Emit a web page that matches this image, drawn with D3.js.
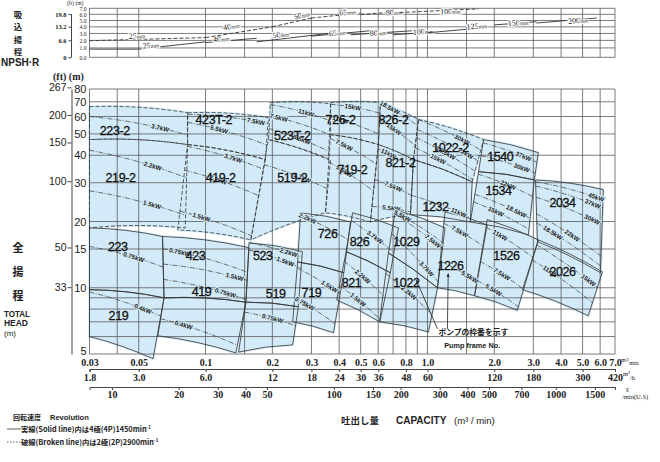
<!DOCTYPE html>
<html>
<head>
<meta charset="utf-8">
<script src="https://cdn.jsdelivr.net/npm/d3@7"></script>
<style>
body { margin: 0; background: #fff; }
svg { display: block; }
</style>
</head>
<body>
<div id="chart"></div>
<script>
// grid + tick values
var qGrid = [0.03,0.04,0.05,0.1,0.15,0.2,0.3,0.4,0.5,0.6,0.7,0.8,0.9,1,1.5,2,3,4,5,6,7];
var hGrid = [5,6,7,8,9,10,15,20,30,40,50,60,70,80];
var hTicks = [5,10,15,20,30,40,50,60,70,80];
var ftTicks = [33,50,100,150,200,267];
var qTicks = ["0.03","0.05","0.1","0.2","0.3","0.4","0.5","0.6","0.8","1.0","2.0","3.0","4.0","5.0","6.0","7.0"];
var m3hTicks = ["1.8","3.0","6.0","12","18","24","30","36","48","60","120","180","300","420"];
var gpmTicks = [10,20,30,40,50,100,150,200,300,400,500,700,1000,1500];
var npshGrid = [1,2,3,4,5,6,7];
var npshTicks = [0,1,2,3,4,5,6,7];
var npshFt = ["0","6.6","13.2","19.8"];

// pump tiles: corners [q m3/min, H m] = top-left, top-right, bottom-right, bottom-left
var tiles4P = [
  ["219",  [[0.030,9.8],[0.065,9.0],[0.058,4.76],[0.030,6.0]]],
  ["223",  [[0.030,18.7],[0.064,17.1],[0.065,9.0],[0.030,9.8]]],
  ["423",  [[0.064,17.1],[0.157,15.2],[0.152,8.6],[0.065,9.0]]],
  ["419",  [[0.065,9.0],[0.152,8.6],[0.137,5.06],[0.061,6.05]]],
  ["523",  [[0.157,16.0],[0.273,14.6],[0.262,8.2],[0.152,8.6]]],
  ["519",  [[0.152,8.6],[0.262,8.2],[0.247,5.5],[0.141,5.1]]],
  ["726",  [[0.268,21.9],[0.45,19.9],[0.42,11.7],[0.26,13.1]]],
  ["719",  [[0.26,13.1],[0.42,11.7],[0.377,6.25],[0.247,7.0]]],
  ["826",  [[0.46,21.9],[0.74,18.7],[0.68,11.7],[0.43,14.6]]],
  ["821",  [[0.43,14.6],[0.68,11.7],[0.61,7.0],[0.39,8.8]]],
  ["1029", [[0.718,22.6],[1.2,18.7],[1.11,10.0],[0.667,14.4]]],
  ["1022", [[0.667,14.4],[1.11,10.0],[1.01,6.3],[0.608,7.0]]],
  ["1226", [[1.2,22.1],[1.86,19.3],[1.63,9.2],[1.11,10.0]]],
  ["1526", [[1.86,20.4],[3.16,16.5],[2.54,7.9],[1.63,9.2]]],
  ["2026", [[3.16,16.5],[6.14,11.8],[5.3,7.46],[2.68,9.8]]]
];
var tiles2P = [
  ["223-2",  [[0.030,66.5],[0.083,62.4],[0.083,44.7],[0.030,47.1]]],
  ["219-2",  [[0.030,47.1],[0.083,44.7],[0.081,18.7],[0.030,18.7]]],
  ["423T-2", [[0.083,62.4],[0.192,59.3],[0.186,38.2],[0.083,44.7]]],
  ["419-2",  [[0.083,44.7],[0.186,38.2],[0.16,16.5],[0.075,18.3]]],
  ["523T-2", [[0.196,69.3],[0.366,68.5],[0.358,38.2],[0.192,47.1]]],
  ["519-2",  [[0.192,47.1],[0.366,38.2],[0.347,21.9],[0.16,16.5]]],
  ["726-2",  [[0.366,69.3],[0.614,69.3],[0.601,44.7],[0.366,49.6]]],
  ["719-2",  [[0.366,49.6],[0.601,44.7],[0.553,19.9],[0.347,21.9]]],
  ["826-2",  [[0.614,69.3],[0.911,58.1],[0.865,38.2],[0.601,44.7]]],
  ["821-2",  [[0.601,44.7],[0.865,38.2],[0.838,21.5],[0.553,19.9]]],
  ["1022-2", [[0.911,58.1],[1.79,47.1],[1.59,30.3],[0.865,38.2]]],
  ["1232",   [[0.865,38.2],[1.59,30.3],[1.56,19.9],[0.838,21.5]]],
  ["1540",   [[1.79,47.1],[3.16,41.1],[3.03,30.9],[1.70,33.7]]],
  ["1534",   [[1.70,33.7],[3.03,30.9],[2.85,17.4],[1.56,19.9]]],
  ["2034",   [[3.07,30.9],[6.2,27.9],[6.02,11.7],[3.13,16.2]]]
];
var dashedTiles = ["223-2","219-2","423T-2","419-2","523T-2","519-2","726-2","719-2","826-2","821-2","1022-2"];

// frame number labels [name, q, H]
var tileLabels = [
  ["223-2",0.039,52],["423T-2",0.109,58],["523T-2",0.246,49],["726-2",0.406,58],["826-2",0.703,58],
  ["1022-2",1.27,43.3],["1540",2.13,39.4],["2034",4.06,24.3],["219-2",0.0414,31.6],["419-2",0.117,31.6],
  ["519-2",0.246,31.6],["719-2",0.459,34.4],["821-2",0.756,37],["1232",1.087,23.3],["1534",2.09,27.6],
  ["223",0.0402,15.4],["423",0.0902,14],["523",0.181,14],["726",0.355,17.6],["826",0.494,16.2],
  ["1029",0.804,16.2],["1226",1.27,12.6],["1526",2.27,14],["2026",4.06,11.8],["219",0.0405,7.46],
  ["419",0.096,9.6],["519",0.207,9.39],["719",0.30,9.5],["821",0.455,10.5],["1022",0.804,10.5]
];

// motor curves inside tiles [tile, start depth, end depth, label, label pos]
var kwLines = [
  ["223-2",0.30,0.70,"3.7kW",0.72],["219-2",0.12,0.40,"2.2kW",0.65],["219-2",0.58,0.85,"1.5kW",0.65],
  ["423T-2",0.05,0.15,"7.5kW",0.85],["423T-2",0.30,0.65,"5.5kW",0.4],["419-2",0.02,0.12,"3.7kW",0.6],
  ["419-2",0.30,0.45,"2.2kW",0.45],["419-2",0.78,0.95,"1.5kW",0.3],["523T-2",0.05,0.30,"11kW",0.6],
  ["523T-2",0.35,0.55,"7.5kW",0.15],["523T-2",0.70,0.85,"5.5kW",0.55],["519-2",0.25,0.55,"3.7kW",0.6],
  ["726-2",0.05,0.25,"15kW",0.45],["726-2",0.45,0.75,"11kW",0.2],["719-2",0.05,0.25,"7.5kW",0.3],
  ["719-2",0.35,0.60,"5.5kW",0.35],["826-2",0.00,0.15,"18.5kW",0.25],["826-2",0.40,0.65,"15kW",0.4],
  ["821-2",0.05,0.15,"11kW",0.3],["821-2",0.45,0.65,"7.5kW",0.5],["821-2",0.80,0.95,"5.5kW",0.5],
  ["1022-2",0.00,0.25,"30kW",0.7],["1022-2",0.25,0.50,"22kW",0.8],["1022-2",0.45,0.75,"18.5kW",0.5],
  ["1022-2",0.70,0.95,"15kW",0.4],["1232",0.65,0.90,"11kW",0.8],["1540",0.10,0.35,"37kW",0.75],
  ["1540",0.50,0.75,"30kW",0.75],["1534",0.05,0.30,"22kW",0.55],["1534",0.45,0.70,"18.5kW",0.75],
  ["1534",0.60,0.90,"15kW",0.4],["2034",0.03,0.12,"45kW",0.9],["2034",0.10,0.22,"37kW",0.85],
  ["2034",0.28,0.42,"30kW",0.85],["2034",0.55,0.80,"22kW",0.55],["2034",0.70,0.92,"18.5kW",0.25],
  ["223",0.30,0.50,"0.75kW",0.6],["219",0.05,0.30,"0.4kW",0.75],["423",0.20,0.45,"0.75kW",0.2],
  ["423",0.45,0.60,"1.5kW",0.85],["423",0.70,0.95,"0.75kW",0.75],["419",0.55,0.85,"0.4kW",0.3],
  ["523",0.00,0.10,"2.2kW",0.75],["523",0.12,0.30,"1.5kW",0.7],["519",0.20,0.50,"0.75kW",0.55],
  ["726",0.05,0.35,"2.2kW",0.15],["719",0.10,0.35,"1.5kW",0.75],["719",0.60,0.85,"0.75kW",0.25],
  ["826",0.20,0.55,"3.7kW",0.55],["821",0.20,0.50,"2.2kW",0.45],["821",0.70,0.95,"1.5kW",0.45],
  ["1029",0.05,0.25,"5.5kW",0.15],["1029",0.10,0.35,"7.5kW",0.8],["1029",0.55,0.90,"3.7kW",0.75],
  ["1022",0.30,0.60,"2.2kW",0.5],["1226",0.15,0.30,"7.5kW",0.4],["1226",0.65,0.80,"5.5kW",0.8],
  ["1526",0.10,0.25,"11kW",0.3],["1526",0.55,0.70,"7.5kW",0.5],["1526",0.80,0.95,"5.5kW",0.4],
  ["2026",0.10,0.35,"15kW",0.85],["2026",0.40,0.70,"11kW",0.3]
];

// NPSH-R by suction bore [size, points [q, m], label at]
var npshSolid = [
  ["25",[[0.03,0.85],[0.05,0.85],[0.1,1.8]],[0.052,1.3]],
  ["40",[[0.1,1.7],[0.17,2.3]],[0.108,2.15]],
  ["50",[[0.17,1.8],[0.4,3.2]],[0.2,2.7]],
  ["65",[[0.3,2.6],[0.55,3.4]],[0.36,3.0]],
  ["80",[[0.45,2.8],[0.85,3.4]],[0.55,3.05]],
  ["100",[[0.7,2.8],[1.05,3.2]],[0.86,3.2]],
  ["125",[[1.0,3.1],[1.86,3.9]],[1.5,4.0]],
  ["150",[[2.0,4.3],[3.1,4.8]],[2.3,4.55]],
  ["200",[[3.1,4.6],[5.8,5.4]],[4.3,4.9]]
];
var npshDashed = [
  ["25",[[0.03,1.96],[0.1,2.4]],[0.045,2.65]],
  ["40",[[0.1,2.4],[0.2,4.0]],[0.12,3.9]],
  ["50",[[0.2,4.0],[0.3,5.4]],[0.25,5.6]],
  ["65",[[0.3,5.4],[0.5,6.2]],[0.4,6.25]],
  ["80",[[0.5,6.0],[0.75,6.4]],[0.65,6.25]],
  ["100",[[0.75,6.3],[1.7,6.9]],[1.14,6.45]]
];

// pointer lines to "1022" and "1226"
var leaders = [[[1.11,6.5],[0.892,10.8]], [[1.23,6.5],[1.24,11.6]]];

function init() {
  var w = 660, h = 462;
  var fillBlue = "#d3ebf8", gridCol = "#5a5a5a", ink = "#222";
  var serif = "'Liberation Serif', 'Times New Roman', serif";
  var sans = "'Liberation Sans', Arial, sans-serif";
  var cjk = "'Noto Sans CJK JP', sans-serif";

  var svg = d3.select("#chart").append("svg")
              .attr("width", w).attr("height", h)
              .style("font-family", sans);

  var x = d3.scaleLog().domain([0.03, 7]).range([89.5, 615]);
  var y = d3.scaleLog().domain([5, 80]).range([354, 89]);
  var yFt = d3.scaleLog().domain([5/0.3048, 80/0.3048]).range([354, 89]);
  var yN = d3.scalePow().exponent(0.85).domain([0, 7]).range([57.3, 8.3]);
  var yNft = d3.scalePow().exponent(0.85).domain([0, 7/0.3048]).range([57.3, 8.3]);
  var xh = d3.scaleLog().domain([0.03*60, 7*60]).range(x.range());
  var xg = d3.scaleLog().domain([0.03*264.17, 7*264.17]).range(x.range());

  var allTiles = tiles2P.concat(tiles4P);
  var tileByName = {};
  allTiles.forEach(function(t){ tileByName[t[0]] = t[1]; });

  function px(c){ return c.map(function(d){ return [x(d[0]), y(d[1])]; }); }
  function bulge(a, b){ return [(a[0]+b[0])/2, (a[1]+b[1])/2 - Math.abs(b[0]-a[0])*0.05]; }
  function lerp(a, b, t){ return [a[0]+(b[0]-a[0])*t, a[1]+(b[1]-a[1])*t]; }
  function tilePath(c){
    var p = px(c);
    return "M" + p[0] + "Q" + bulge(p[0], p[1]) + " " + p[1] + "L" + p[2] +
           "Q" + bulge(p[3], p[2]) + " " + p[3] + "Z";
  }

  // ---- NPSH panel ----
  var ng = svg.append("g").attr("stroke", gridCol).attr("stroke-width", 0.8);
  ng.selectAll("line.v").data(qGrid).enter().append("line").attr("class", "v")
    .attr("x1", function(d){ return x(d); }).attr("x2", function(d){ return x(d); })
    .attr("y1", yN(7)).attr("y2", yN(0));
  ng.selectAll("line.h").data([0].concat(npshGrid)).enter().append("line").attr("class", "h")
    .attr("x1", x(0.03)).attr("x2", x(7))
    .attr("y1", function(d){ return yN(d); }).attr("y2", function(d){ return yN(d); });

  var nline = d3.line().x(function(d){ return x(d[0]); }).y(function(d){ return yN(d[1]); });
  function npshDraw(list, dash){
    list.forEach(function(s){
      svg.append("path").attr("d", nline(s[1])).attr("fill", "none")
         .attr("stroke", "#333").attr("stroke-width", 0.9)
         .attr("stroke-dasharray", dash);
      var a = s[1][0], b = s[1][s[1].length-1];
      var ang = Math.atan2(yN(b[1]) - yN(a[1]), x(b[0]) - x(a[0])) * 180 / Math.PI;
      var t = svg.append("text")
         .attr("transform", "translate(" + x(s[2][0]) + "," + yN(s[2][1]) + ") rotate(" + ang + ")")
         .attr("dy", "0.35em")
         .style("font-family", serif).style("font-size", "8px").attr("fill", ink)
         .attr("stroke", "#fff").attr("stroke-width", 2).style("paint-order", "stroke");
      t.append("tspan").text(s[0]);
      t.append("tspan").style("font-size", "5.5px").text("mm");
    });
  }
  npshDraw(npshSolid, null);
  npshDraw(npshDashed, "4,2");

  var an = svg.append("g").attr("transform", "translate(89.5,0)")
    .call(d3.axisLeft(yN).tickValues(npshTicks).tickSize(0).tickPadding(3));
  an.select(".domain").remove();
  an.selectAll("text").style("font-family", serif).style("font-size", "5.6px").attr("fill", ink);

  var anf = svg.append("g").attr("transform", "translate(71.5,0)")
    .call(d3.axisLeft(yNft).tickValues(npshFt.map(Number)).tickFormat(function(d, i){ return npshFt[i]; })
      .tickSize(3).tickPadding(2));
  anf.select(".domain").remove();
  anf.selectAll("text").style("font-family", serif).style("font-size", "6.5px").style("font-weight", "bold").attr("fill", ink);
  anf.selectAll("line").attr("stroke", "#444");
  svg.append("line").attr("x1", 71.5).attr("x2", 71.5)
     .attr("y1", yNft(19.8)).attr("y2", yNft(0)).attr("stroke", "#444");

  svg.append("text").attr("x", 67).attr("y", 4.5).text("(ft) (m)")
     .style("font-family", serif).style("font-size", "5.5px").attr("fill", ink);

  ["吸","込","揚","程"].forEach(function(c, i){
    svg.append("text").attr("x", 18).attr("y", 18 + i*12.4).attr("text-anchor", "middle")
       .style("font-family", cjk).style("font-weight", "bold").style("font-size", "8.4px")
       .attr("fill", ink).text(c);
  });
  svg.append("text").attr("x", 1).attr("y", 66).text("NPSH·R")
     .style("font-weight", "bold").style("font-size", "10px").attr("fill", ink);

  // ---- main panel ----
  svg.append("g").selectAll("path").data(allTiles).enter().append("path")
     .attr("d", function(d){ return tilePath(d[1]); })
     .attr("fill", fillBlue).attr("stroke", fillBlue).attr("stroke-width", 2.5);

  var grid = svg.append("g").attr("stroke", gridCol).attr("stroke-width", 0.8);
  grid.selectAll("line.v").data(qGrid).enter().append("line").attr("class", "v")
      .attr("x1", function(d){ return x(d); }).attr("x2", function(d){ return x(d); })
      .attr("y1", y(80)).attr("y2", y(5));
  grid.selectAll("line.h").data(hGrid).enter().append("line").attr("class", "h")
      .attr("x1", x(0.03)).attr("x2", x(7))
      .attr("y1", function(d){ return y(d); }).attr("y2", function(d){ return y(d); });

  svg.append("g").selectAll("path").data(allTiles).enter().append("path")
     .attr("d", function(d){ return tilePath(d[1]); })
     .attr("fill", "none").attr("stroke", "#333").attr("stroke-width", 0.8)
     .attr("stroke-dasharray", function(d){ return dashedTiles.indexOf(d[0]) >= 0 ? "4,2" : null; });

  // motor curves
  kwLines.forEach(function(k){
    var p = px(tileByName[k[0]]);
    var L = lerp(p[0], p[3], k[1]), R = lerp(p[1], p[2], k[2]);
    var C = bulge(L, R);
    svg.append("path").attr("d", "M" + L + "Q" + C + " " + R)
       .attr("fill", "none").attr("stroke", "#333").attr("stroke-width", 0.7)
       .attr("stroke-dasharray", "5,1.5,1,1.5");
    var s = k[4], u = 1 - s;
    var P = [u*u*L[0] + 2*u*s*C[0] + s*s*R[0], u*u*L[1] + 2*u*s*C[1] + s*s*R[1]];
    var T = [2*u*(C[0]-L[0]) + 2*s*(R[0]-C[0]), 2*u*(C[1]-L[1]) + 2*s*(R[1]-C[1])];
    var ang = Math.atan2(T[1], T[0]) * 180 / Math.PI;
    svg.append("text")
       .attr("transform", "translate(" + P[0] + "," + P[1] + ") rotate(" + ang + ")")
       .attr("dy", "0.35em").attr("text-anchor", "middle")
       .style("font-size", "6.3px").style("font-weight", "bold").attr("fill", ink)
       .attr("stroke", fillBlue).attr("stroke-width", 2).style("paint-order", "stroke")
       .text(k[3]);
  });

  // frame numbers
  svg.append("g").selectAll("text").data(tileLabels).enter().append("text")
     .attr("x", function(d){ return x(d[1]); }).attr("y", function(d){ return y(d[2]); })
     .attr("dy", "0.35em").attr("text-anchor", "middle")
     .style("font-size", "12.5px").attr("fill", "#111")
     .attr("stroke", "#111").attr("stroke-width", 0.3)
     .style("letter-spacing", "-0.4px")
     .text(function(d){ return d[0]; });

  // pointers
  svg.append("defs").append("marker").attr("id", "arr")
     .attr("viewBox", "0 0 10 10").attr("refX", 9).attr("refY", 5)
     .attr("markerWidth", 5).attr("markerHeight", 6).attr("orient", "auto")
     .append("path").attr("d", "M0,1L10,5L0,9Z").attr("fill", "#222");
  svg.append("g").selectAll("line").data(leaders).enter().append("line")
     .attr("x1", function(d){ return x(d[0][0]); }).attr("y1", function(d){ return y(d[0][1]); })
     .attr("x2", function(d){ return x(d[1][0]); }).attr("y2", function(d){ return y(d[1][1]); })
     .attr("stroke", "#222").attr("stroke-width", 0.8).attr("marker-end", "url(#arr)");
  svg.append("text").attr("x", x(1.12)).attr("y", y(6.1)).text("ポンプの枠番を示す")
     .style("font-family", cjk).style("font-weight", "bold").style("font-size", "7.8px").attr("fill", ink);
  svg.append("text").attr("x", x(1.19)).attr("y", y(5.35)).text("Pump frame No.")
     .style("font-weight", "bold").style("font-size", "7.3px").attr("fill", ink);

  // left axes
  var am = svg.append("g").attr("transform", "translate(89.5,0)")
    .call(d3.axisLeft(y).tickValues(hTicks).tickFormat(d3.format("d")).tickSize(0).tickPadding(3));
  am.select(".domain").remove();
  am.selectAll("text").style("font-size", "11px").attr("fill", ink)
    .attr("dy", function(d){ return d === 5 ? "0.05em" : "0.32em"; });

  var aft = svg.append("g").attr("transform", "translate(71.5,0)")
    .call(d3.axisLeft(yFt).tickValues(ftTicks).tickSize(4).tickSizeOuter(0).tickPadding(1));
  aft.selectAll("text").style("font-size", "10.5px").attr("fill", ink);
  aft.selectAll("line, path").attr("stroke", "#444");

  svg.append("text").attr("x", 53).attr("y", 80).text("(ft) (m)")
     .style("font-family", serif).style("font-size", "10px").style("font-weight", "bold").attr("fill", ink);

  [["全",252],["揚",276],["程",300]].forEach(function(c){
    svg.append("text").attr("x", 18).attr("y", c[1]).attr("text-anchor", "middle")
       .style("font-family", cjk).style("font-weight", "bold").style("font-size", "11px")
       .attr("fill", ink).text(c[0]);
  });
  svg.append("text").attr("x", 4).attr("y", 317).attr("textLength", 26).attr("lengthAdjust", "spacingAndGlyphs")
     .style("font-weight", "bold").style("font-size", "9px").attr("fill", ink).text("TOTAL");
  svg.append("text").attr("x", 4).attr("y", 326).attr("textLength", 24).attr("lengthAdjust", "spacingAndGlyphs")
     .style("font-weight", "bold").style("font-size", "9px").attr("fill", ink).text("HEAD");
  svg.append("text").attr("x", 4).attr("y", 336).style("font-size", "8px").attr("fill", ink).text("(m)");

  // bottom axes
  var b1 = svg.append("g").attr("transform", "translate(0,355)")
    .call(d3.axisBottom(x).tickValues(qTicks.map(Number)).tickFormat(function(d, i){ return qTicks[i]; })
      .tickSize(0).tickPadding(4));
  b1.select(".domain").remove();

  var b2 = svg.append("g").attr("transform", "translate(0,369)")
    .call(d3.axisBottom(xh).tickValues(m3hTicks.map(Number)).tickFormat(function(d, i){ return m3hTicks[i]; })
      .tickSizeInner(3).tickSizeOuter(3).tickPadding(2));

  var b3 = svg.append("g").attr("transform", "translate(0,387)")
    .call(d3.axisBottom(xg).tickValues(gpmTicks).tickFormat(d3.format("d"))
      .tickSizeInner(3).tickSizeOuter(3).tickPadding(1));

  [b1, b2, b3].forEach(function(b){
    b.selectAll("text").style("font-family", serif).style("font-size", "10px")
     .style("font-weight", "bold").attr("fill", ink);
    b.selectAll("line, path").attr("stroke", "#444");
  });

  // unit labels
  var u1 = svg.append("text").attr("x", 621).attr("y", 362).style("font-family", serif)
              .style("font-size", "6px").attr("fill", ink);
  u1.append("tspan").text("m³/");
  u1.append("tspan").attr("dy", 3).text("min");
  var u2 = svg.append("text").attr("x", 623).attr("y", 376).style("font-family", serif)
              .style("font-size", "6.5px").attr("fill", ink);
  u2.append("tspan").text("m³");
  u2.append("tspan").attr("dy", 4).text("/h");
  svg.append("text").attr("x", 626).attr("y", 391).style("font-family", serif)
     .style("font-size", "5.5px").attr("fill", ink).text("g");
  svg.append("text").attr("x", 622).attr("y", 399).style("font-family", serif)
     .style("font-size", "6.5px").attr("fill", ink).text("/min(U.S)");

  // axis title
  svg.append("text").attr("x", 341).attr("y", 424).text("吐出し量")
     .style("font-family", cjk).style("font-weight", "bold").style("font-size", "9.5px").attr("fill", ink);
  svg.append("text").attr("x", 396).attr("y", 424).text("CAPACITY")
     .style("font-weight", "bold").style("font-size", "10px").attr("fill", ink);
  svg.append("text").attr("x", 454).attr("y", 424).text("(m³ / min)")
     .style("font-size", "9.5px").attr("fill", ink);

  // legend
  svg.append("text").attr("x", 13).attr("y", 420).text("回転速度")
     .style("font-family", cjk).style("font-weight", "bold").style("font-size", "7px").attr("fill", ink);
  svg.append("text").attr("x", 50).attr("y", 420).text("Revolution")
     .style("font-weight", "bold").style("font-size", "7.5px").attr("fill", ink);
  svg.append("line").attr("x1", 7).attr("x2", 21).attr("y1", 429).attr("y2", 429)
     .attr("stroke", "#333").attr("stroke-width", 0.8);
  svg.append("line").attr("x1", 7).attr("x2", 21).attr("y1", 442).attr("y2", 442)
     .attr("stroke", "#333").attr("stroke-width", 0.8).attr("stroke-dasharray", "1.5,1.5");
  var l1 = svg.append("text").attr("x", 21).attr("y", 432)
              .style("font-family", cjk).style("font-weight", "bold").style("font-size", "7.3px").attr("fill", ink);
  l1.append("tspan").text("実線(Solid line)内は4極(4P)1450min");
  l1.append("tspan").attr("dy", -3).style("font-size", "4.5px").text("-1");
  var l2 = svg.append("text").attr("x", 21).attr("y", 445)
              .style("font-family", cjk).style("font-weight", "bold").style("font-size", "7.3px").attr("fill", ink);
  l2.append("tspan").text("破線(Broken line)内は2極(2P)2900min");
  l2.append("tspan").attr("dy", -3).style("font-size", "4.5px").text("-1");
}

window.onload = init;
</script>
</body>
</html>
